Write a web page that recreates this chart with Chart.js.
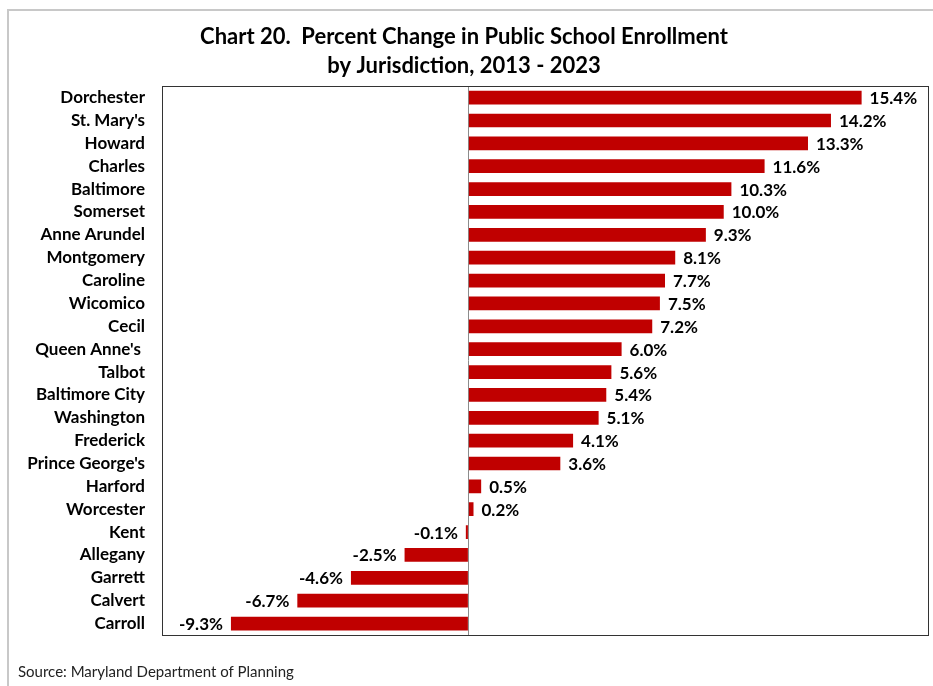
<!DOCTYPE html>
<html>
<head>
<meta charset="utf-8">
<script src="https://cdn.jsdelivr.net/npm/chart.js@4.4.1/dist/chart.umd.min.js"></script>
<style>
  html, body { margin: 0; padding: 0; background: #fff; }
  #wrap { position: relative; width: 933px; height: 686px; }
  #frame { position: absolute; left: 7px; top: 9px; right: -4px; bottom: -4px; border: 2px solid #c8c8c8; }
  #source { position: absolute; left: 18px; top: 662px; font: 15px Lato, sans-serif; color: #222; }
</style>
</head>
<body>
<div id="wrap">
  <div id="frame"></div>
  <canvas id="chart" width="933" height="686"></canvas>
  <div id="source">Source: Maryland Department of Planning</div>
</div>
<script>
const jurisdictions = [
  'Dorchester', "St. Mary's", 'Howard', 'Charles', 'Baltimore', 'Somerset',
  'Anne Arundel', 'Montgomery', 'Caroline', 'Wicomico', 'Cecil', "Queen Anne's ",
  'Talbot', 'Baltimore City', 'Washington', 'Frederick', "Prince George's",
  'Harford', 'Worcester', 'Kent', 'Allegany', 'Garrett', 'Calvert', 'Carroll'
];
const pctChange = [
  15.4, 14.2, 13.3, 11.6, 10.3, 10.0, 9.3, 8.1, 7.7, 7.5, 7.2, 6.0,
  5.6, 5.4, 5.1, 4.1, 3.6, 0.5, 0.2, -0.1, -2.5, -4.6, -6.7, -9.3
];
const titleLines = ['Chart 20.  Percent Change in Public School Enrollment', 'by Jurisdiction, 2013 - 2023'];

const FONT = 'Lato, "Open Sans", sans-serif';
const BAR_RED = '#c00000';

// box around the plot area
const plotBorder = {
  id: 'plotBorder',
  afterDraw(chart) {
    const a = chart.chartArea, c = chart.ctx;
    c.save();
    c.strokeStyle = '#333';
    c.lineWidth = 1;
    c.strokeRect(Math.round(a.left) + 0.5, Math.round(a.top) + 0.5, Math.round(a.right - a.left), Math.round(a.bottom - a.top));
    c.restore();
  }
};

// value labels next to each bar
const valueLabels = {
  id: 'valueLabels',
  afterDatasetsDraw(chart) {
    const c = chart.ctx;
    const meta = chart.getDatasetMeta(0);
    c.save();
    c.font = 'bold 17px ' + FONT;
    c.fillStyle = '#000';
    c.textBaseline = 'middle';
    meta.data.forEach((bar, i) => {
      const v = pctChange[i];
      const txt = v.toFixed(1) + '%';
      if (v >= 0) {
        c.textAlign = 'left';
        c.fillText(txt, Math.max(bar.x, bar.base) + 8, bar.y + 1);
      } else {
        c.textAlign = 'right';
        c.fillText(txt, Math.min(bar.x, bar.base) - 8, bar.y + 1);
      }
    });
    c.restore();
  }
};

new Chart(document.getElementById('chart'), {
  type: 'bar',
  data: {
    labels: jurisdictions,
    datasets: [{
      data: pctChange,
      backgroundColor: BAR_RED,
      borderWidth: 0,
      barPercentage: 0.6,
      categoryPercentage: 1
    }]
  },
  options: {
    indexAxis: 'y',
    responsive: false,
    animation: false,
    layout: { padding: { left: 0, right: 5, bottom: 51, top: 0 } },
    plugins: {
      legend: { display: false },
      tooltip: { enabled: false },
      title: {
        display: true,
        text: titleLines,
        color: '#000',
        font: { family: FONT, size: 22, weight: 'bold', lineHeight: 1.3 },
        padding: { top: 23, bottom: 6 }
      }
    },
    scales: {
      x: {
        min: -12,
        max: 18,
        ticks: { display: false, stepSize: 3 },
        border: { display: false },
        grid: {
          drawTicks: false,
          color: ctx => (ctx.tick && ctx.tick.value === 0) ? '#8c8c8c' : 'rgba(0,0,0,0)',
          lineWidth: 1
        },
        afterFit: s => { s.height = 0; }
      },
      y: {
        ticks: {
          color: '#000',
          padding: 17,
          autoSkip: false,
          font: { family: FONT, size: 17, weight: 'bold' }
        },
        border: { display: false },
        grid: { display: false, drawTicks: false },
        afterFit: s => { s.width = 162; }
      }
    }
  },
  plugins: [plotBorder, valueLabels]
});
</script>
</body>
</html>
